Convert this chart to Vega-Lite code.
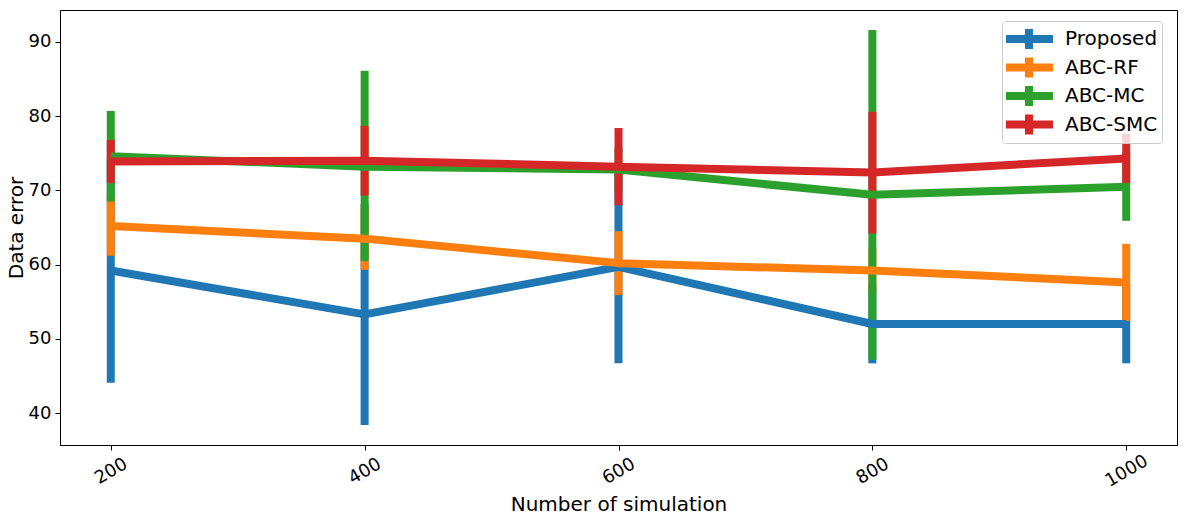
{
  "$schema": "https://vega.github.io/schema/vega-lite/v6.json",
  "width": 1117,
  "height": 435,
  "autosize": {"type": "none"},
  "padding": {"left": 60, "top": 10, "right": 9, "bottom": 75},
  "background": "white",
  "config": {
    "font": "DejaVu Sans",
    "view": {"stroke": "black", "strokeWidth": 1},
    "axis": {
      "domainColor": "black", "tickColor": "black", "labelColor": "black", "titleColor": "black",
      "grid": false, "labelFontSize": 18, "titleFontSize": 20, "titleFontWeight": "normal",
      "labelFont": "DejaVu Sans", "titleFont": "DejaVu Sans", "tickSize": 5, "domainWidth": 1, "tickWidth": 1
    },
    "legend": {"labelFont": "DejaVu Sans"}
  },
  "data": {
    "values": [
      {"n": 200, "method": "Proposed", "mean": 59.2, "lo": 44.1, "hi": 74.3},
      {"n": 400, "method": "Proposed", "mean": 53.3, "lo": 38.4, "hi": 68.2},
      {"n": 600, "method": "Proposed", "mean": 59.7, "lo": 46.7, "hi": 72.7},
      {"n": 800, "method": "Proposed", "mean": 52.0, "lo": 46.7, "hi": 57.3},
      {"n": 1000, "method": "Proposed", "mean": 52.0, "lo": 46.7, "hi": 57.3},
      {"n": 200, "method": "ABC-RF", "mean": 65.2, "lo": 61.2, "hi": 69.2},
      {"n": 400, "method": "ABC-RF", "mean": 63.5, "lo": 59.3, "hi": 67.7},
      {"n": 600, "method": "ABC-RF", "mean": 60.2, "lo": 55.9, "hi": 64.5},
      {"n": 800, "method": "ABC-RF", "mean": 59.2, "lo": 56.2, "hi": 62.2},
      {"n": 1000, "method": "ABC-RF", "mean": 57.6, "lo": 52.4, "hi": 62.8},
      {"n": 200, "method": "ABC-MC", "mean": 74.6, "lo": 68.5, "hi": 80.7},
      {"n": 400, "method": "ABC-MC", "mean": 73.2, "lo": 60.5, "hi": 86.1},
      {"n": 600, "method": "ABC-MC", "mean": 72.8, "lo": 69.8, "hi": 75.8},
      {"n": 800, "method": "ABC-MC", "mean": 69.4, "lo": 47.2, "hi": 91.6},
      {"n": 1000, "method": "ABC-MC", "mean": 70.5, "lo": 65.9, "hi": 75.1},
      {"n": 200, "method": "ABC-SMC", "mean": 73.9, "lo": 71.0, "hi": 76.8},
      {"n": 400, "method": "ABC-SMC", "mean": 74.0, "lo": 69.3, "hi": 78.7},
      {"n": 600, "method": "ABC-SMC", "mean": 73.2, "lo": 68.0, "hi": 78.4},
      {"n": 800, "method": "ABC-SMC", "mean": 72.4, "lo": 64.2, "hi": 80.6},
      {"n": 1000, "method": "ABC-SMC", "mean": 74.3, "lo": 71.0, "hi": 77.6}
    ]
  },
  "layer": [
    {
      "mark": {"type": "rule", "strokeWidth": 8, "strokeCap": "butt"},
      "encoding": {
        "x": {
          "field": "n", "type": "quantitative",
          "scale": {"domain": [160, 1040], "nice": false, "zero": false},
          "axis": {
            "title": "Number of simulation", "values": [200, 400, 600, 800, 1000], "format": "d",
            "labelAngle": -30, "labelAlign": "center", "labelBaseline": "middle",
            "labelPadding": 21, "titlePadding": 4
          }
        },
        "y": {
          "field": "lo", "type": "quantitative",
          "scale": {"domain": [35.7, 94.3], "nice": false, "zero": false},
          "axis": {"title": "Data error", "values": [40, 50, 60, 70, 80, 90], "labelPadding": 4, "titlePadding": 2}
        },
        "y2": {"field": "hi"},
        "color": {
          "field": "method", "type": "nominal",
          "scale": {"domain": ["Proposed", "ABC-RF", "ABC-MC", "ABC-SMC"], "range": ["#1f77b4", "#ff7f0e", "#2ca02c", "#d62728"]},
          "legend": {
            "title": null, "orient": "none", "legendX": 942, "legendY": 11,
            "symbolType": "M-1.5,0L3.3,0M0.9,-1L0.9,1",
            "symbolSize": 400, "symbolStrokeWidth": 8, "symbolFillColor": "transparent",
            "labelFontSize": 20, "labelOffset": 31, "labelColor": "black",
            "clipHeight": 28, "rowPadding": 0.5, "padding": 4,
            "fillColor": "rgba(255,255,255,0.8)", "strokeColor": "#cccccc", "cornerRadius": 3
          }
        }
      }
    },
    {
      "mark": {"type": "line", "strokeWidth": 8, "strokeJoin": "round"},
      "encoding": {
        "x": {"field": "n", "type": "quantitative"},
        "y": {"field": "mean", "type": "quantitative"},
        "color": {"field": "method", "type": "nominal"}
      }
    }
  ]
}
